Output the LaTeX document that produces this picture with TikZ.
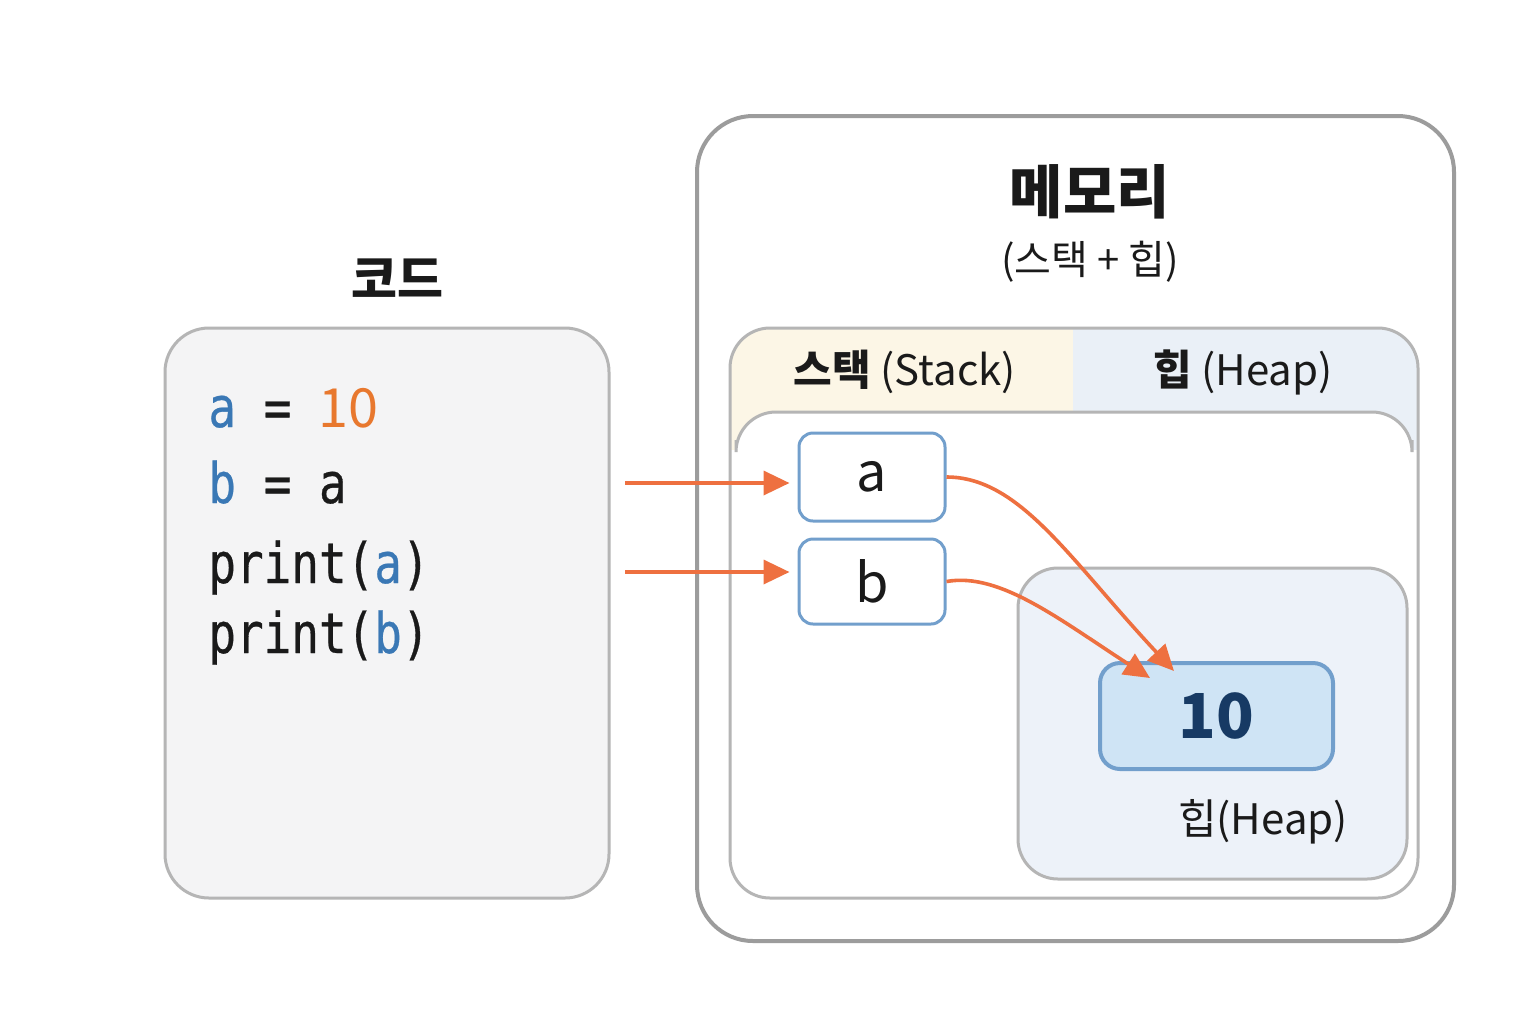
\documentclass[tikz,border=0pt]{standalone}
\usepackage{fontspec}
\setmainfont{Noto Sans CJK KR}
\newfontfamily\codefont[FakeStretch=0.82,FakeBold=0.5]{DejaVu Sans Mono}
\usetikzlibrary{arrows.meta,calc}
\definecolor{codeblue}{HTML}{3A78B5}
\definecolor{codeorange}{HTML}{E8782E}
\definecolor{arrorange}{HTML}{EE7040}
\definecolor{boxblue}{HTML}{729FCC}
\definecolor{codefill}{HTML}{F4F4F5}
\definecolor{graybord}{HTML}{B5B5B5}
\definecolor{outerbord}{HTML}{9C9C9C}
\definecolor{cream}{HTML}{FCF6E6}
\definecolor{hdrblue}{HTML}{EAF0F7}
\definecolor{heapfill}{HTML}{EDF2F9}
\definecolor{valfill}{HTML}{CFE4F5}
\definecolor{navy}{HTML}{173A64}
\definecolor{txt}{HTML}{1A1A1A}
\begin{document}
\begin{tikzpicture}[x=0.5pt,y=-0.5pt,
  codeline/.style={anchor=base west,inner sep=0pt,font=\codefont\fontsize{28pt}{30pt}\selectfont,text=txt},
  varbox/.style={draw=boxblue,line width=1.5pt,fill=white,rounded corners=7pt,minimum width=73pt,font=\fontsize{27pt}{30pt}\selectfont,text=txt,inner sep=0pt},
  ptr/.style={draw=arrorange,line width=1.8pt,-{Triangle[length=13pt,width=12pt]}},
  lbl/.style={inner sep=0pt,text=txt}]
\fill[white] (0,0) rectangle (1536,1024);
% code panel
\node[lbl,font=\bfseries\fontsize{25pt}{28pt}\selectfont] (codetitle) at (397,278) {코드};
\node[draw=graybord,line width=1.5pt,fill=codefill,rounded corners=22pt,minimum width=222pt,minimum height=285pt,inner sep=0pt] (code) at (387,613) {};
\node[codeline] (l1) at (208,427) {\textcolor{codeblue}{a} = \textcolor{codeorange}{\fontspec{Noto Sans CJK KR}\fontsize{27pt}{30pt}\selectfont 10}};
\node[codeline] (l2) at (208,503) {\textcolor{codeblue}{b} = a};
\node[codeline] (l3) at (208,583) {print(\textcolor{codeblue}{a})};
\node[codeline] (l4) at (208,653) {print(\textcolor{codeblue}{b})};
% memory
\node[draw=outerbord,line width=2pt,fill=white,rounded corners=28pt,minimum width=378.5pt,minimum height=412.5pt,inner sep=0pt] (mem) at (1075.5,528.5) {};
\node[lbl,font=\bfseries\fontsize{29pt}{32pt}\selectfont] (memtitle) at (1090,192) {메모리};
\node[lbl,font=\fontsize{20pt}{22pt}\selectfont] (memsub) at (1090,262) {(스택 + 힙)};
% container
\begin{scope}
\clip[rounded corners=20pt] (730,328) rectangle (1418,898);
\fill[cream] (730,328) rectangle (1073,450);
\fill[hdrblue] (1073,328) rectangle (1418,450);
\fill[white,rounded corners=20pt] (736,412) rectangle (1412,960);
\end{scope}
\draw[graybord,line width=1.5pt,rounded corners=20pt] (736,440) -- (736,412) -- (1412,412) -- (1412,440);
\node[draw=graybord,line width=1.5pt,rounded corners=20pt,minimum width=344pt,minimum height=285pt,inner sep=0pt] (cont) at (1074,613) {};
\node[lbl,font=\fontsize{21pt}{24pt}\selectfont] (stackhdr) at (905,372) {\textbf{스택} (Stack)};
\node[lbl,font=\fontsize{21pt}{24pt}\selectfont] (heaphdr) at (1243,372) {\textbf{힙} (Heap)};
% heap region
\node[draw=graybord,line width=1.5pt,fill=heapfill,rounded corners=20pt,minimum width=194.5pt,minimum height=155.5pt,inner sep=0pt] (heap) at (1212.5,723.5) {};
\node[draw=boxblue,line width=2pt,fill=valfill,rounded corners=10pt,minimum width=116.5pt,minimum height=53pt,inner sep=0pt,text=navy,font=\bfseries\fontsize{31pt}{32pt}\selectfont] (val) at (1216.5,716) {\raisebox{-2pt}{10}};
\node[lbl,font=\fontsize{21pt}{24pt}\selectfont] (heaplbl) at (1263,822) {힙(Heap)};
% stack vars
\node[varbox,minimum height=44pt] (va) at (872,477) {a};
\node[varbox,minimum height=42.5pt] (vb) at (872,581.5) {b};
% arrows
\coordinate (s1) at (625,483);
\coordinate (s2) at (625,572);
\draw[ptr,shorten >=4pt] (s1) -- (va.west |- s1);
\draw[ptr,shorten >=4pt] (s2) -- (vb.west |- s2);
\coordinate (ta) at (1174,671);
\coordinate (tb) at (1150,678);
\draw[ptr] (va.east) .. controls (1020,477) and (1070,560) .. (ta);
\draw[ptr] (vb.east) .. controls (1000,572) and (1060,620) .. (tb);
\end{tikzpicture}
\end{document}
